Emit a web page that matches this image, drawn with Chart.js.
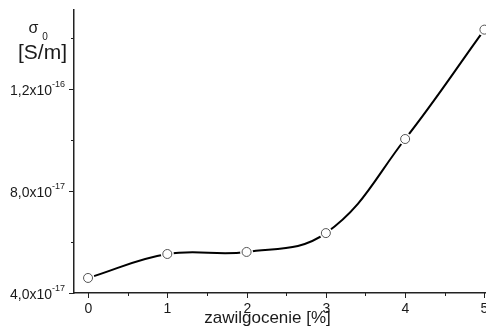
<!DOCTYPE html>
<html><head><meta charset="utf-8">
<script src="https://cdn.jsdelivr.net/npm/chart.js@4/dist/chart.umd.min.js"></script>
<style>html,body{margin:0;padding:0;background:#fff;overflow:hidden}#wrap{width:486px;height:329px;position:relative}</style>
</head><body><div id="wrap"><canvas id="c"></canvas></div>
<script>
// ---- data ----
const moisture = [0, 1, 2, 3, 4, 5];
const conductivity = [4.59e-17, 5.53e-17, 5.61e-17, 6.35e-17, 10.04e-17, 14.33e-17];
const xTickValues = [0, 0.5, 1, 1.5, 2, 2.5, 3, 3.5, 4, 4.5, 5];
const xTickLabels = ['0', '', '1', '', '2', '', '3', '', '4', '', '5'];
const yTickValues = [4e-17, 6e-17, 8e-17, 1e-16, 1.2e-16, 1.4e-16];
const yTickMantissa = ['4,0x10', '', '8,0x10', '', '1,2x10', ''];
const yTickExponent = ['-17', '', '-17', '', '-16', ''];
const xTitle = 'zawilgocenie [%]';
const yTitleSymbol = 'σ';
const yTitleSub = '0';
const yTitleUnit = '[S/m]';

const points = moisture.map((x, i) => ({x: x, y: conductivity[i]}));
const FONT = '"Liberation Sans", Arial, sans-serif';
const TXT = '#1a1a1a';

const labelsPlugin = {
  id: 'labelsPlugin',
  afterDraw(chart) {
    const ctx = chart.ctx;
    const xs = chart.scales.x, ys = chart.scales.y;
    const area = chart.chartArea;
    ctx.save();
    ctx.strokeStyle = '#222';
    ctx.lineWidth = 1;
    // y ticks
    yTickValues.forEach((v, i) => {
      const py = Math.round(ys.getPixelForValue(v)) + 0.5;
      const len = yTickMantissa[i] ? 5 : 3;
      ctx.beginPath(); ctx.moveTo(area.left - len, py); ctx.lineTo(area.left, py); ctx.stroke();
      if (yTickMantissa[i]) {
        ctx.fillStyle = TXT;
        ctx.font = '9px ' + FONT;
        const wSup = ctx.measureText(yTickExponent[i]).width;
        const right = 65;
        ctx.textAlign = 'left'; ctx.textBaseline = 'alphabetic';
        ctx.fillText(yTickExponent[i], right - wSup, py - 2.5);
        ctx.font = '14px ' + FONT;
        const wBase = ctx.measureText(yTickMantissa[i]).width;
        ctx.fillText(yTickMantissa[i], right - wSup - wBase, py + 5);
      }
    });
    // x ticks
    xTickValues.forEach((v, i) => {
      const px = Math.round(xs.getPixelForValue(v)) + 0.5;
      const len = xTickLabels[i] ? 5 : 3;
      ctx.beginPath(); ctx.moveTo(px, area.bottom); ctx.lineTo(px, area.bottom + len); ctx.stroke();
      if (xTickLabels[i]) {
        ctx.fillStyle = TXT;
        ctx.font = '14px ' + FONT;
        ctx.textAlign = 'center'; ctx.textBaseline = 'alphabetic';
        ctx.fillText(xTickLabels[i], px, 313);
      }
    });
    // x title
    ctx.fillStyle = TXT;
    ctx.font = '17px ' + FONT;
    ctx.textAlign = 'center';
    ctx.fillText(xTitle, 267.5, 323);
    // y title
    ctx.font = '16px ' + FONT;
    ctx.fillText(yTitleSymbol, 33.5, 33);
    ctx.font = '10px ' + FONT;
    ctx.fillText(yTitleSub, 45, 40);
    ctx.font = '21px ' + FONT;
    ctx.fillText(yTitleUnit, 42.5, 59);
    ctx.restore();
  }
};

new Chart(document.getElementById('c'), {
  type: 'line',
  data: {
    datasets: [
      {
        data: points, borderColor: '#000', borderWidth: 2, pointRadius: 0,
        tension: 0.4, fill: false, order: 3
      },
      {
        data: points, showLine: false, pointRadius: 6.5, pointBackgroundColor: '#fff',
        pointBorderWidth: 0, pointBorderColor: '#fff', clip: false, order: 2
      },
      {
        data: points, showLine: false, pointRadius: 4.5, pointBackgroundColor: '#fff',
        pointBorderColor: '#555', pointBorderWidth: 1, clip: false, order: 1
      }
    ]
  },
  options: {
    responsive: true, maintainAspectRatio: false, animation: false, devicePixelRatio: 1,
    layout: {autoPadding: false, padding: {left: 74, top: 10, right: 0, bottom: 36}},
    plugins: {legend: {display: false}, tooltip: {enabled: false}},
    events: [],
    scales: {
      x: {
        type: 'linear', min: -0.177, max: 5.02,
        afterBuildTicks: s => { s.ticks = xTickValues.map(v => ({value: v})); },
        ticks: {display: false},
        grid: {display: true, drawOnChartArea: false, drawTicks: false},
        border: {display: true, color: '#222', width: 1.5}
      },
      y: {
        type: 'linear', min: 4e-17, max: 1.51e-16,
        afterBuildTicks: s => { s.ticks = yTickValues.map(v => ({value: v})); },
        ticks: {display: false},
        grid: {display: true, drawOnChartArea: false, drawTicks: false},
        border: {display: true, color: '#222', width: 1.5}
      }
    }
  },
  plugins: [labelsPlugin]
});
</script>
</body></html>
